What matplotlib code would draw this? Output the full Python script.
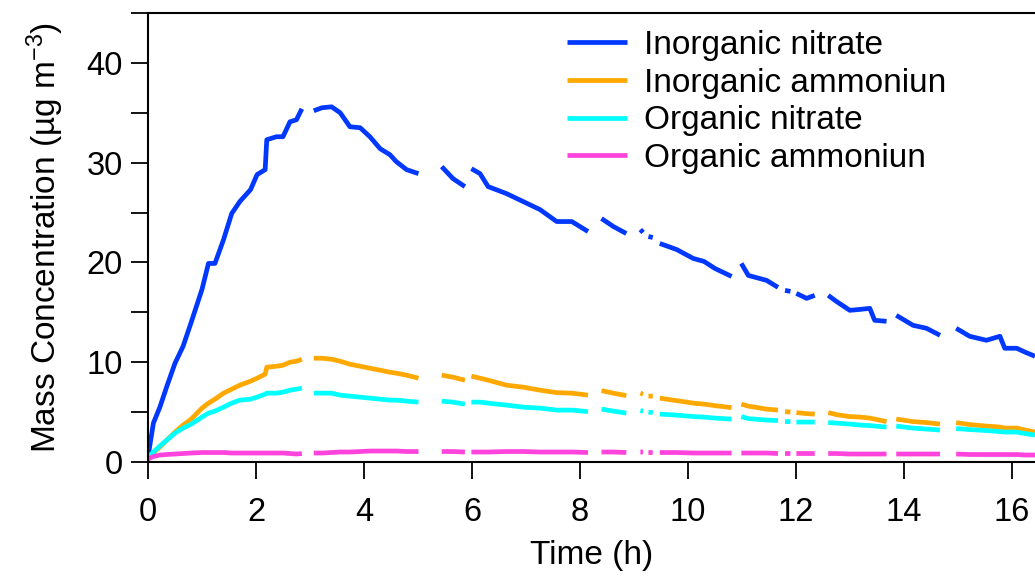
import numpy as np
import matplotlib
matplotlib.use("Agg")
import matplotlib.pyplot as plt
from matplotlib.ticker import MultipleLocator

plt.rcParams["font.family"] = ["Liberation Sans", "DejaVu Sans"]
plt.rcParams["mathtext.fontset"] = "custom"
plt.rcParams["mathtext.rm"] = "Liberation Sans"
plt.rcParams["mathtext.it"] = "Liberation Sans:italic"

# time (h); None rows are gaps in the record
time_h = [0.00, 0.10, 0.22, 0.35, 0.50, 0.65, 0.80, 1.00, 1.12, 1.24, 1.40, 1.55, 1.70, 1.90, 2.02, 2.17, 2.20,
          2.38, 2.50, 2.63, 2.75, 2.85, None,
          3.07, 3.22, 3.40, 3.56, 3.74, 3.93, 4.11, 4.30, 4.48, 4.60, 4.79, 5.01, None,
          5.44, 5.65, 5.87, None,
          5.99, 6.15, 6.30, 6.64, 6.95, 7.26, 7.57, 7.85, 8.15, None,
          8.40, 8.62, 8.86, None,
          9.12, 9.17, None,
          9.27, 9.35, None,
          9.48, 9.79, 10.10, 10.30, 10.50, 10.81, None,
          10.99, 11.12, 11.46, 11.67, None,
          11.80, 11.90, None,
          12.01, 12.20, 12.35, None,
          12.60, 12.75, 13.00, 13.20, 13.37, 13.46, 13.68, None,
          13.86, 14.17, 14.42, 14.67, None,
          14.97, 15.22, 15.53, 15.78, 15.87, 16.09, 16.25, 16.43]

inorg_nitrate = [0.5, 3.9, 5.5, 7.6, 9.9, 11.6, 14.0, 17.3, 19.9, 19.9, 22.3, 24.9, 26.1, 27.3, 28.8, 29.3, 32.3,
                 32.6, 32.6, 34.1, 34.3, 35.4, None,
                 35.2, 35.5, 35.6, 35.0, 33.6, 33.5, 32.6, 31.4, 30.8, 30.1, 29.3, 28.9, None,
                 29.6, 28.4, 27.6, None,
                 29.4, 28.9, 27.6, 26.9, 26.1, 25.3, 24.1, 24.1, 23.1, None,
                 24.4, 23.6, 22.9, None,
                 23.3, 23.0, None,
                 22.6, 22.5, None,
                 21.9, 21.3, 20.4, 20.1, 19.4, 18.6, None,
                 19.9, 18.7, 18.2, 17.5, None,
                 17.2, 17.1, None,
                 16.9, 16.4, 16.7, None,
                 16.7, 16.1, 15.2, 15.3, 15.4, 14.2, 14.1, None,
                 14.7, 13.7, 13.4, 12.7, None,
                 13.4, 12.6, 12.2, 12.6, 11.4, 11.4, 11.0, 10.6]

inorg_ammonium = [0.4, 0.9, 1.5, 2.2, 3.0, 3.7, 4.3, 5.4, 5.9, 6.3, 6.9, 7.3, 7.7, 8.1, 8.4, 8.8, 9.5,
                  9.6, 9.7, 10.0, 10.1, 10.3, None,
                  10.4, 10.4, 10.3, 10.1, 9.8, 9.6, 9.4, 9.2, 9.0, 8.9, 8.7, 8.4, None,
                  8.7, 8.5, 8.2, None,
                  8.6, 8.4, 8.2, 7.7, 7.5, 7.2, 6.95, 6.9, 6.7, None,
                  7.15, 6.9, 6.65, None,
                  6.9, 6.8, None,
                  6.6, 6.6, None,
                  6.4, 6.15, 5.9, 5.8, 5.65, 5.45, None,
                  5.8, 5.6, 5.3, 5.2, None,
                  5.05, 5.0, None,
                  4.95, 4.85, 4.8, None,
                  4.95, 4.75, 4.55, 4.5, 4.4, 4.3, 4.05, None,
                  4.3, 4.05, 3.95, 3.8, None,
                  3.95, 3.75, 3.6, 3.5, 3.4, 3.4, 3.2, 3.0]

org_nitrate = [0.5, 1.0, 1.6, 2.2, 2.9, 3.4, 3.8, 4.5, 4.9, 5.1, 5.5, 5.9, 6.2, 6.3, 6.5, 6.8, 6.9,
               6.9, 7.0, 7.2, 7.3, 7.4, None,
               6.9, 6.9, 6.9, 6.7, 6.6, 6.5, 6.4, 6.3, 6.2, 6.2, 6.1, 6.0, None,
               6.1, 6.0, 5.8, None,
               6.0, 6.0, 5.9, 5.7, 5.5, 5.4, 5.2, 5.2, 5.05, None,
               5.3, 5.1, 4.9, None,
               5.15, 5.1, None,
               5.0, 4.95, None,
               4.8, 4.7, 4.55, 4.5, 4.4, 4.3, None,
               4.55, 4.35, 4.2, 4.15, None,
               4.05, 4.05, None,
               4.0, 4.0, 4.0, None,
               3.95, 3.9, 3.8, 3.7, 3.65, 3.6, 3.5, None,
               3.6, 3.4, 3.3, 3.2, None,
               3.35, 3.25, 3.15, 3.05, 3.0, 3.0, 2.85, 2.7]

org_ammonium = [0.3, 0.55, 0.7, 0.75, 0.8, 0.85, 0.9, 0.95, 0.95, 0.95, 0.95, 0.9, 0.9, 0.9, 0.9, 0.9, 0.9,
                0.9, 0.9, 0.85, 0.8, 0.85, None,
                0.9, 0.9, 0.95, 1.0, 1.0, 1.05, 1.1, 1.1, 1.1, 1.1, 1.05, 1.05, None,
                1.05, 1.05, 1.0, None,
                1.0, 1.0, 1.0, 1.05, 1.05, 1.0, 1.0, 1.0, 0.95, None,
                1.0, 1.0, 0.95, None,
                1.0, 1.0, None,
                0.95, 0.95, None,
                0.95, 0.95, 0.9, 0.9, 0.9, 0.9, None,
                0.9, 0.9, 0.9, 0.85, None,
                0.85, 0.85, None,
                0.85, 0.85, 0.85, None,
                0.85, 0.85, 0.8, 0.8, 0.8, 0.8, 0.8, None,
                0.8, 0.8, 0.8, 0.8, None,
                0.8, 0.75, 0.75, 0.75, 0.75, 0.75, 0.7, 0.7]

labels = ["Inorganic nitrate", "Inorganic ammoniun", "Organic nitrate", "Organic ammoniun"]
colors = ["#0038FF", "#FFA800", "#00FFFF", "#FF44DD"]


def arr(v):
    return np.array([np.nan if x is None else x for x in v], dtype=float)


t = arr(time_h)
fig = plt.figure(figsize=(10.35, 5.76), dpi=100)
ax = fig.add_axes([148 / 1035, 114 / 576, 887 / 1035, 449 / 576])

for ys, lab, c in zip([inorg_nitrate, inorg_ammonium, org_nitrate, org_ammonium], labels, colors):
    ax.plot(t, arr(ys), color=c, lw=3.4, label=lab, solid_capstyle="butt")

ax.set_xlim(0, 16.43)
ax.set_ylim(0, 45)
ax.xaxis.set_major_locator(MultipleLocator(2))
ax.yaxis.set_major_locator(MultipleLocator(10))
ax.yaxis.set_minor_locator(MultipleLocator(5))
ax.tick_params(axis="both", which="both", direction="out", length=12, width=1.3, labelsize=23.5, pad=6)
ax.tick_params(axis="x", which="major", pad=13)
for s in ("left", "bottom", "top"):
    ax.spines[s].set_linewidth(1.5)
ax.spines["right"].set_visible(False)

ax.set_xlabel("Time (h)", fontsize=24, labelpad=9)
ax.set_ylabel("Mass Concentration (µg m$^{-3}$)", fontsize=24, labelpad=15)

ax.legend(loc="upper left", bbox_to_anchor=(0.548, 0.948), bbox_transform=fig.transFigure,
          frameon=False, fontsize=24, handlelength=1.8, handletextpad=0.5, labelspacing=0.2,
          borderpad=0, borderaxespad=0)

fig.savefig("out.png", dpi=100)
